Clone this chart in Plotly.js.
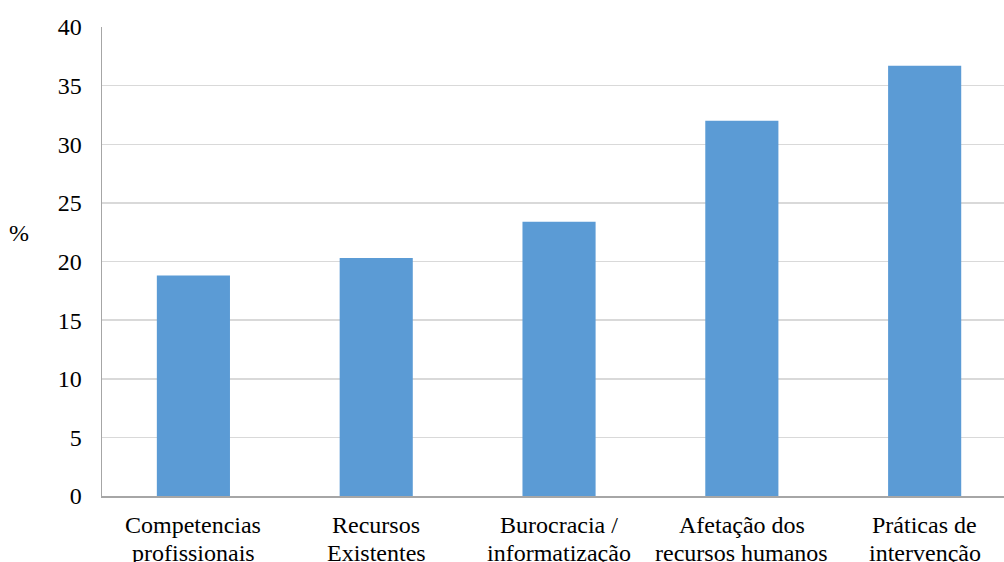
<!DOCTYPE html>
<html>
<head>
<meta charset="utf-8">
<script src="https://cdn.plot.ly/plotly-3.0.1.min.js"></script>
<style>
  html, body { margin: 0; padding: 0; background: #ffffff; overflow: hidden; }
  #chart { width: 1004px; height: 562px; }
</style>
</head>
<body>
<div id="chart"></div>
<script>
// Categories (two-line labels) and percentage values
const categories = [
  "Competencias<br>profissionais",
  "Recursos<br>Existentes",
  "Burocracia /<br>informatização",
  "Afetação dos<br>recursos humanos",
  "Práticas de<br>intervenção"
];
const values = [18.8, 20.3, 23.4, 32.0, 36.7];
const yTicks = [0, 5, 10, 15, 20, 25, 30, 35, 40];

const serif = "'Liberation Serif', 'Times New Roman', Times, serif";
const fontSize = 24;

// plot area geometry (px)
const W = 1004, H = 562;
const M = { l: 102, r: 0, t: 27, b: 66 };
const plotH = H - M.t - M.b;

const trace = {
  type: "bar",
  x: categories.map((c, i) => i),
  y: values,
  marker: { color: "#5b9bd5" },
  hoverinfo: "skip"
};

// Category labels: each line drawn as its own annotation for tighter line spacing
const lineCentres = [525, 553]; // px from top of the figure
const catAnnotations = [];
categories.forEach((label, i) => {
  label.split("<br>").forEach((line, k) => {
    catAnnotations.push({
      text: line,
      xref: "x",
      yref: "paper",
      x: i,
      y: ((H - M.b) - lineCentres[k]) / plotH,
      xanchor: "center",
      yanchor: "middle",
      showarrow: false,
      font: { family: serif, size: fontSize, color: "#000000" }
    });
  });
});

const layout = {
  width: W,
  height: H,
  margin: { l: M.l, r: M.r, t: M.t, b: M.b, pad: 0 },
  paper_bgcolor: "#ffffff",
  plot_bgcolor: "#ffffff",
  bargap: 0.6,
  showlegend: false,
  font: { family: serif, size: fontSize, color: "#000000" },
  xaxis: {
    type: "linear",
    range: [-0.5, 4.434],
    tickmode: "array",
    tickvals: categories.map((c, i) => i),
    showticklabels: false,
    showgrid: false,
    zeroline: false,
    showline: true,
    linecolor: "#a6a6a6",
    linewidth: 1.5,
    ticks: ""
  },
  yaxis: {
    range: [0, 40],
    tickmode: "array",
    tickvals: yTicks,
    ticktext: yTicks.map(String),
    showgrid: true,
    gridcolor: "#d9d9d9",
    gridwidth: 1.5,
    zeroline: false,
    showline: true,
    linecolor: "#a6a6a6",
    linewidth: 1.5,
    ticks: "",
    ticklabelstandoff: 14,
    tickfont: { family: serif, size: fontSize, color: "#000000" }
  },
  annotations: [{
    text: "%",
    xref: "paper",
    yref: "paper",
    x: -0.0915,
    y: 0.56,
    xanchor: "center",
    yanchor: "middle",
    showarrow: false,
    font: { family: serif, size: fontSize, color: "#000000" }
  }].concat(catAnnotations)
};

Plotly.newPlot("chart", [trace], layout, { displayModeBar: false, staticPlot: true });
</script>
</body>
</html>
